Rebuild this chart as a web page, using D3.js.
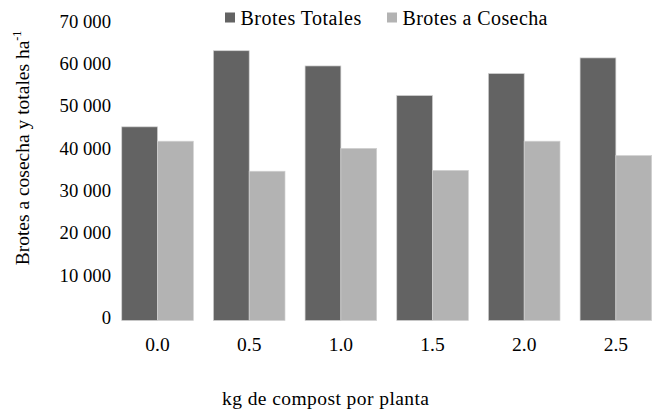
<!DOCTYPE html>
<html>
<head>
<meta charset="utf-8">
<script src="https://cdn.jsdelivr.net/npm/d3@7"></script>
<style>
  html, body { margin: 0; padding: 0; background: #fff; }
</style>
</head>
<body>
<svg id="chart" width="652" height="411"></svg>
<script>
const categories = ["0.0", "0.5", "1.0", "1.5", "2.0", "2.5"];
const seriesNames = ["Brotes Totales", "Brotes a Cosecha"];
const brotesTotales = [45800, 63800, 60200, 53200, 58400, 62100];
const brotesCosecha = [42400, 35300, 40700, 35500, 42400, 39000];
const yTicks = [0, 10000, 20000, 30000, 40000, 50000, 60000, 70000];
const colors = ["#636363", "#b3b3b3"];

const FONT = '"Liberation Serif"';
const svg = d3.select("#chart");
const series = [brotesTotales, brotesCosecha];

const x0 = d3.scaleBand().domain(categories).range([111.7, 661.7])
  .paddingInner(0.219).paddingOuter(0.1095);
const x1 = d3.scaleBand().domain(d3.range(seriesNames.length)).range([0, x0.bandwidth()]);
const y = d3.scaleLinear().domain([0, 70000]).range([320.5, 24.5]);

const fmt = v => d3.format(",")(v).replace(/,/g, " ");

// y axis (labels only)
const yAxis = d3.axisLeft(y).tickValues(yTicks).tickFormat(fmt).tickSize(0).tickPadding(0);
const gy = svg.append("g").attr("transform", "translate(111,0)").call(yAxis);
gy.select(".domain").remove();
gy.selectAll("text").attr("font-size", 18.7).attr("fill", "#000").attr("dy", "0.15em")
  .style("font-family", FONT);

// bars
const groups = svg.append("g").selectAll("g").data(categories).join("g")
  .attr("transform", d => `translate(${x0(d)},0)`);
groups.selectAll("rect")
  .data((d, i) => series.map((s, k) => ({k, v: s[i]})))
  .join("rect")
  .attr("x", d => x1(d.k))
  .attr("width", x1.bandwidth())
  .attr("y", d => y(d.v))
  .attr("height", d => y(0) - y(d.v))
  .attr("fill", d => colors[d.k])
  .attr("stroke", "#d0d0d0")
  .attr("stroke-width", 0.7);

// x axis (labels only)
const xAxis = d3.axisBottom(x0).tickSize(0).tickPadding(0);
const gx = svg.append("g").attr("transform", "translate(0,340)").call(xAxis);
gx.select(".domain").remove();
gx.selectAll("text").attr("font-size", 19.5).attr("fill", "#000").attr("dy", "0.55em")
  .style("font-family", FONT);

// x title
svg.append("text").attr("x", 325.5).attr("y", 405)
  .attr("text-anchor", "middle").attr("font-size", 19.5)
  .attr("textLength", 207).attr("lengthAdjust", "spacing")
  .style("font-family", FONT)
  .text("kg de compost por planta");

// y title
const yt = svg.append("text")
  .attr("transform", "translate(29,148) rotate(-90)")
  .attr("text-anchor", "middle").attr("font-size", 19.5)
  .style("font-family", FONT);
yt.append("tspan").text("Brotes a cosecha y totales ha");
yt.append("tspan").attr("font-size", 12).attr("dy", "-0.65em").text("-1");

// legend
const legendX = [225, 387];
const legendW = [120.7, 145];
const leg = svg.append("g").selectAll("g").data(seriesNames).join("g")
  .attr("transform", (d, i) => `translate(${legendX[i]},12.5)`);
leg.append("rect").attr("width", 10).attr("height", 10).attr("fill", (d, i) => colors[i]);
leg.append("text").attr("x", 15.5).attr("y", 5).attr("dy", "0.35em")
  .attr("font-size", 20).attr("textLength", (d, i) => legendW[i]).attr("lengthAdjust", "spacing")
  .style("font-family", FONT).text(d => d);
</script>
</body>
</html>
